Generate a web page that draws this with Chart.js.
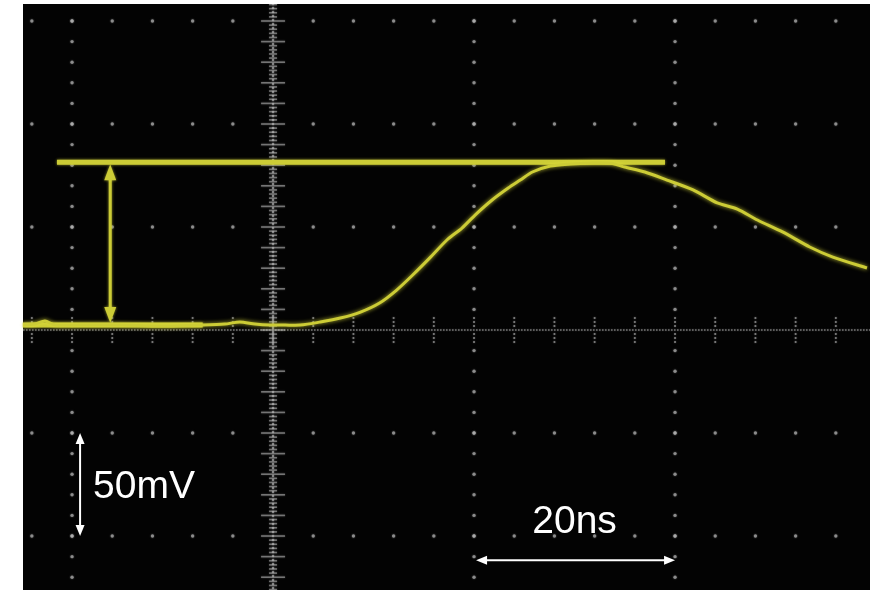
<!DOCTYPE html>
<html>
<head>
<meta charset="utf-8">
<script src="https://cdn.jsdelivr.net/npm/chart.js@4"></script>
<style>
  html, body { margin: 0; padding: 0; background: #fff; }
  #wrap { width: 881px; height: 590px; }
</style>
</head>
<body>
<div id="wrap"><canvas id="scope"></canvas></div>
<script>
// trace: time in ns, voltage in mV
const timeNs = [-24.9, -23.7, -22.7, -21.7, -19.2, -15.2, -11.2, -7.3, -4.8, -3.3, -1.8, -0.3, 1.2, 2.7, 4.7, 6.7, 8.7, 10.6, 12.3, 13.9, 15.6, 17.3, 18.8, 20.1, 21.8, 23.4, 24.6, 25.8, 27.6, 29.6, 31.5, 33.5, 35.0, 37.0, 39.2, 41.8, 44.2, 46.2, 48.2, 50.7, 53.4, 55.7, 59.1];
const traceMv = [2.4, 2.9, 4.4, 2.4, 2.4, 2.4, 1.9, 2.4, 2.9, 3.9, 2.9, 2.4, 2.4, 2.4, 3.9, 5.8, 8.7, 13.1, 19.4, 26.7, 35.0, 43.7, 49.5, 55.8, 63.1, 68.9, 72.8, 76.7, 79.6, 80.6, 81.1, 81.1, 79.1, 76.7, 72.8, 68.0, 61.7, 58.7, 53.4, 47.6, 40.3, 35.4, 30.1];

// amplitude cursors
const cursorTopMv = 81.4;
const cursorBaseMv = 2.4;
const cursorTopSpan = [-21.5, 39.0];
const cursorBaseSpan = [-24.9, -7.0];
const cursorArrowNs = -16.2;

// scale bar annotations
const voltBarLabel = "50mV";
const voltBarMv = [-50, -100];
const voltBarNs = -19.2;
const timeBarLabel = "20ns";
const timeBarNs = [20, 40];
const timeBarMv = -111.7;

// graticule
const majorNs = [-20, 0, 20, 40];
const majorMv = [-100, -50, 0, 50, 100, 150];
const minorStepNs = 4;
const minorStepMv = 10;

const YELLOW = "#cccc36";

function dot(ctx, x, y, r) {
  ctx.beginPath();
  ctx.arc(x, y, r, 0, Math.PI * 2);
  ctx.fill();
}

function arrowHead(ctx, x, y, dx, dy, len, half) {
  // tip at (x,y), pointing along (dx,dy)
  ctx.beginPath();
  ctx.moveTo(x, y);
  ctx.lineTo(x - dx * len - dy * half, y - dy * len + dx * half);
  ctx.lineTo(x - dx * len + dy * half, y - dy * len - dx * half);
  ctx.closePath();
  ctx.fill();
}

const scopePlugin = {
  id: "scope",
  beforeDraw(chart) {
    const { ctx, chartArea: a } = chart;
    ctx.save();
    ctx.fillStyle = "#fff";
    ctx.fillRect(0, 0, chart.width, chart.height);
    ctx.fillStyle = "#030303";
    ctx.fillRect(a.left, a.top, a.right - a.left, a.bottom - a.top);
    ctx.restore();
  },
  beforeDatasetsDraw(chart) {
    const { ctx, chartArea: a, scales: { x, y } } = chart;
    ctx.save();
    ctx.beginPath();
    ctx.rect(a.left, a.top, a.right - a.left, a.bottom - a.top);
    ctx.clip();
    ctx.fillStyle = "rgba(175,175,175,0.7)";
    ctx.shadowColor = "rgba(200,200,200,0.6)";
    ctx.shadowBlur = 2;
    const x0 = x.getPixelForValue(0), y0 = y.getPixelForValue(0);

    // dots on major rows
    majorMv.forEach(v => {
      if (v === 0) return;
      const py = y.getPixelForValue(v);
      for (let t = -24; t <= 60; t += minorStepNs) {
        if (t === 0) continue;
        dot(ctx, x.getPixelForValue(t), py, 1.7);
      }
    });
    // dots on major columns
    majorNs.forEach(t => {
      if (t === 0) return;
      const px = x.getPixelForValue(t);
      for (let v = -120; v <= 160; v += minorStepMv) {
        if (v === 0) continue;
        dot(ctx, px, y.getPixelForValue(v), 1.7);
      }
    });

    // center horizontal axis: fine dotted line + short vertical ticks
    ctx.fillStyle = "rgba(190,190,190,0.6)";
    for (let px = a.left; px < a.right; px += 3) {
      ctx.fillRect(px, y0 - 0.7, 1.6, 1.4);
    }
    for (let t = -24; t <= 60; t += minorStepNs) {
      const px = x.getPixelForValue(t);
      [-12, -8, -4, 4, 8, 12].forEach(o => dot(ctx, px, y0 + o, 1.1));
    }

    // center vertical axis: dotted line + horizontal ticks
    for (let py = a.top; py < a.bottom; py += 4) {
      dot(ctx, x0, py, 1.2);
    }
    ctx.strokeStyle = "rgba(180,180,180,0.55)";
    ctx.lineWidth = 1.6;
    for (let v = -126; v <= 158; v += 2) {
      const py = y.getPixelForValue(v);
      const w = (v % minorStepMv === 0) ? 12 : 4;
      ctx.beginPath();
      ctx.moveTo(x0 - w, py);
      ctx.lineTo(x0 + w, py);
      ctx.stroke();
    }
    ctx.restore();

    // amplitude cursors
    ctx.save();
    ctx.strokeStyle = YELLOW;
    ctx.fillStyle = YELLOW;
    ctx.shadowColor = "rgba(220,220,60,0.7)";
    ctx.shadowBlur = 3;
    ctx.lineWidth = 5;
    const yt = y.getPixelForValue(cursorTopMv);
    const yb = y.getPixelForValue(cursorBaseMv);
    ctx.beginPath();
    ctx.moveTo(x.getPixelForValue(cursorTopSpan[0]), yt);
    ctx.lineTo(x.getPixelForValue(cursorTopSpan[1]), yt);
    ctx.stroke();
    ctx.beginPath();
    ctx.moveTo(x.getPixelForValue(cursorBaseSpan[0]), yb);
    ctx.lineTo(x.getPixelForValue(cursorBaseSpan[1]), yb);
    ctx.stroke();
    const xa = x.getPixelForValue(cursorArrowNs);
    ctx.lineWidth = 3;
    ctx.beginPath();
    ctx.moveTo(xa, yt + 12);
    ctx.lineTo(xa, yb - 12);
    ctx.stroke();
    arrowHead(ctx, xa, yt + 2, 0, -1, 16, 6);
    arrowHead(ctx, xa, yb - 2, 0, 1, 16, 6);
    ctx.restore();

    ctx.save();
    ctx.shadowColor = "rgba(230,230,60,0.8)";
    ctx.shadowBlur = 4;
  },
  afterDatasetsDraw(chart) {
    const { ctx, scales: { x, y } } = chart;
    ctx.restore();
    ctx.save();
    ctx.strokeStyle = "#fff";
    ctx.fillStyle = "#fff";
    ctx.lineWidth = 2;

    // vertical 50mV bar
    const vx = x.getPixelForValue(voltBarNs);
    const vy1 = y.getPixelForValue(voltBarMv[0]);
    const vy2 = y.getPixelForValue(voltBarMv[1]);
    ctx.beginPath();
    ctx.moveTo(vx, vy1 + 8);
    ctx.lineTo(vx, vy2 - 8);
    ctx.stroke();
    arrowHead(ctx, vx, vy1, 0, -1, 11, 4.5);
    arrowHead(ctx, vx, vy2, 0, 1, 11, 4.5);

    // horizontal 20ns bar
    const hy = y.getPixelForValue(timeBarMv);
    const hx1 = x.getPixelForValue(timeBarNs[0]);
    const hx2 = x.getPixelForValue(timeBarNs[1]);
    ctx.beginPath();
    ctx.moveTo(hx1 + 8, hy);
    ctx.lineTo(hx2 - 8, hy);
    ctx.stroke();
    arrowHead(ctx, hx1 + 2, hy, -1, 0, 11, 4.5);
    arrowHead(ctx, hx2, hy, 1, 0, 11, 4.5);

    ctx.font = '39px "Liberation Sans", Arial, sans-serif';
    ctx.textBaseline = "alphabetic";
    ctx.textAlign = "left";
    ctx.fillText(voltBarLabel, vx + 13, (vy1 + vy2) / 2 + 13);
    ctx.textAlign = "center";
    ctx.fillText(timeBarLabel, (hx1 + hx2) / 2, hy - 27);
    ctx.restore();
  }
};

new Chart(document.getElementById("scope"), {
  type: "scatter",
  data: {
    datasets: [
      {
        label: "CH1",
        data: timeNs.map((t, i) => ({ x: t, y: traceMv[i] })),
        showLine: true,
        borderColor: YELLOW,
        borderWidth: 3,
        pointRadius: 0,
        tension: 0.25,
      },
    ],
  },
  options: {
    responsive: true,
    maintainAspectRatio: false,
    animation: false,
    layout: { padding: { left: 23, right: 11, top: 4, bottom: 0 } },
    plugins: { legend: { display: false }, tooltip: { enabled: false } },
    scales: {
      x: { type: "linear", min: -24.88, max: 59.40, display: false },
      y: { type: "linear", min: -126.2, max: 158.25, display: false },
    },
  },
  plugins: [scopePlugin],
});
</script>
</body>
</html>
